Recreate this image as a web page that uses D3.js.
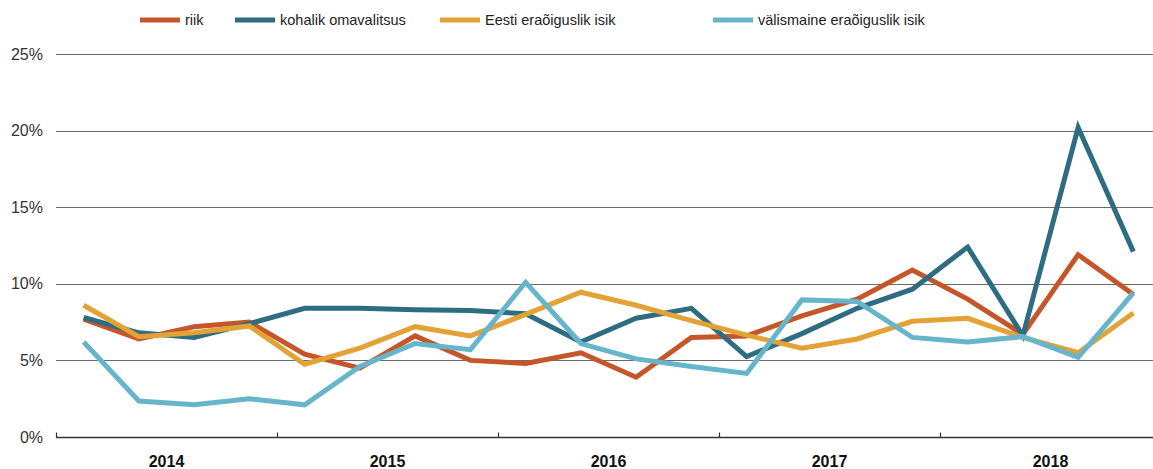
<!DOCTYPE html>
<html>
<head>
<meta charset="utf-8">
<script src="https://cdn.jsdelivr.net/npm/d3@7"></script>
<style>
  body { margin: 0; background: #fff; }
  svg { display: block; font-family: "Liberation Sans", Arial, sans-serif; }
</style>
</head>
<body>
<div id="chart"></div>
<script>
const years = ["2014", "2015", "2016", "2017", "2018"];
const quarters = ["I", "II", "III", "IV"];
const yTicks = [0, 5, 10, 15, 20, 25];

const seriesNames = ["riik", "kohalik omavalitsus", "Eesti eraõiguslik isik", "välismaine eraõiguslik isik"];
const seriesColors = ["#c4562a", "#2e6d81", "#e2a236", "#66b5ca"];

const riik = [7.7, 6.4, 7.2, 7.5, 5.4, 4.5, 6.6, 5.0, 4.8, 5.5, 3.9, 6.5, 6.6, 7.9, 9.0, 10.9, 9.0, 6.7, 11.9, 9.3];
const kohalik = [7.8, 6.8, 6.5, 7.4, 8.4, 8.4, 8.3, 8.25, 8.05, 6.2, 7.75, 8.4, 5.25, 6.75, 8.4, 9.65, 12.4, 6.6, 20.2, 12.1];
const eesti = [8.6, 6.55, 6.8, 7.25, 4.75, 5.8, 7.2, 6.6, 8.0, 9.45, 8.6, 7.6, 6.65, 5.8, 6.4, 7.55, 7.75, 6.5, 5.5, 8.1];
const valismaine = [6.2, 2.35, 2.1, 2.5, 2.1, 4.6, 6.1, 5.7, 10.1, 6.1, 5.1, 4.6, 4.15, 8.95, 8.85, 6.5, 6.2, 6.55, 5.2, 9.4];

const seriesValues = [riik, kohalik, eesti, valismaine];

const width = 1153;
const height = 469;
const margin = { top: 54, right: -8, bottom: 32, left: 56 };

const svg = d3.select("#chart")
  .append("svg")
  .attr("width", width)
  .attr("height", height);

const nQ = years.length * quarters.length;

// quarter index scale (points sit in the middle of each quarter slot)
const x = d3.scaleLinear()
  .domain([0, nQ])
  .range([margin.left, width - margin.right]);

const xYear = d3.scaleBand()
  .domain(years)
  .range([margin.left, width - margin.right]);

const y = d3.scaleLinear()
  .domain([0, 25])
  .range([height - margin.bottom, margin.top]);

// gridlines
svg.append("g")
  .selectAll("line")
  .data(yTicks.filter(d => d > 0))
  .enter()
  .append("line")
  .attr("x1", margin.left)
  .attr("x2", width)
  .attr("y1", d => Math.round(y(d)) + 0.5)
  .attr("y2", d => Math.round(y(d)) + 0.5)
  .style("stroke", "#6a6a6a")
  .style("stroke-width", 1);

// y labels
svg.append("g")
  .selectAll("text")
  .data(yTicks)
  .enter()
  .append("text")
  .attr("x", 43)
  .attr("y", d => y(d))
  .attr("dy", "0.35em")
  .attr("text-anchor", "end")
  .style("font-size", "16px")
  .style("fill", "#333")
  .text(d => d + "%");

// x axis baseline with year boundary ticks
const xAxis = d3.axisBottom(x)
  .tickValues(d3.range(0, nQ, quarters.length))
  .tickSizeInner(-5)
  .tickSizeOuter(0)
  .tickFormat("");

const gx = svg.append("g")
  .attr("transform", `translate(0,${Math.round(y(0)) + 0.5})`)
  .call(xAxis);
gx.select(".domain").attr("d", `M${margin.left},0H${width}`).style("stroke", "#333").style("stroke-width", 1.5);
gx.selectAll(".tick line").style("stroke", "#333").style("stroke-width", 1.2);

// year labels
svg.append("g")
  .selectAll("text")
  .data(years)
  .enter()
  .append("text")
  .attr("x", d => xYear(d) + xYear.bandwidth() / 2)
  .attr("y", 461)
  .attr("dy", "0.35em")
  .attr("text-anchor", "middle")
  .style("font-size", "16px")
  .style("font-weight", "bold")
  .style("fill", "#111")
  .text(d => d);

// lines
const line = d3.line()
  .x((d, i) => x(i + 0.5))
  .y(d => y(d));

svg.append("g")
  .selectAll("path")
  .data(seriesValues)
  .enter()
  .append("path")
  .attr("d", line)
  .style("fill", "none")
  .style("stroke", (_, i) => seriesColors[i])
  .style("stroke-width", 5)
  .style("stroke-linejoin", "miter");

// legend
const legendX = [140, 235, 440, 713];
const legend = svg.append("g")
  .selectAll("g")
  .data(seriesNames)
  .enter()
  .append("g")
  .attr("transform", (_, i) => `translate(${legendX[i]},20)`);

legend.append("line")
  .attr("x1", 0)
  .attr("x2", 40)
  .style("stroke", (_, i) => seriesColors[i])
  .style("stroke-width", 5);

legend.append("text")
  .attr("x", 45)
  .attr("dy", "0.35em")
  .style("font-size", "14.5px")
  .style("fill", "#222")
  .text(d => d);
</script>
</body>
</html>
